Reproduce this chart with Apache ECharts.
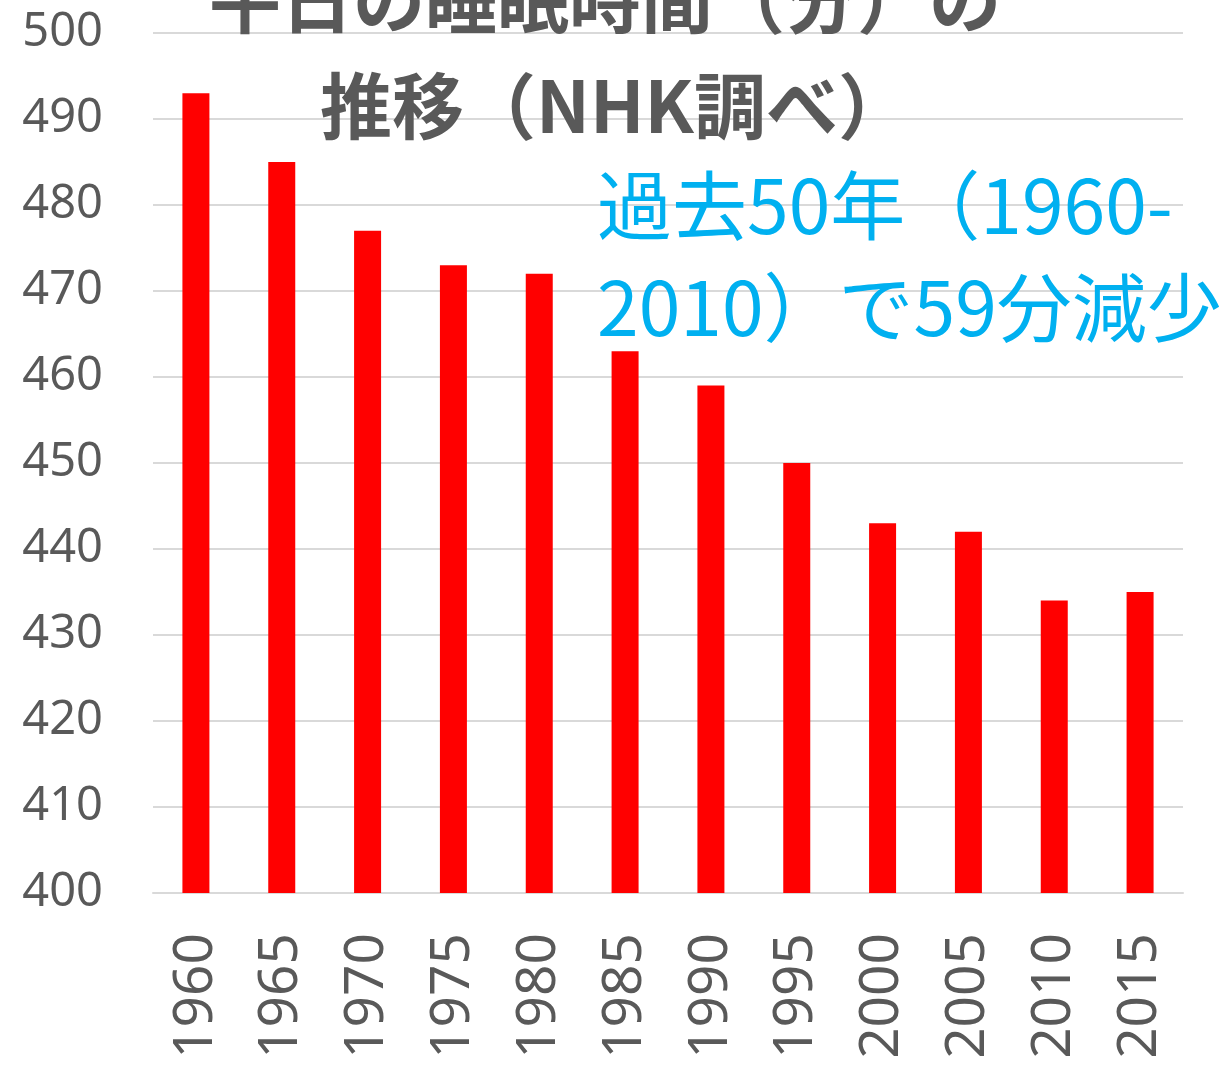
<!DOCTYPE html>
<html>
<head>
<meta charset="utf-8">
<script src="https://cdn.jsdelivr.net/npm/echarts@6/dist/echarts.min.js"></script>
<style>
  html, body { margin: 0; padding: 0; background: #ffffff; }
  #chart { width: 1230px; height: 1074px; }
</style>
</head>
<body>
<div id="chart"></div>
<script>
// Survey years and weekday sleep time in minutes (NHK)
const years = ['1960', '1965', '1970', '1975', '1980', '1985', '1990', '1995', '2000', '2005', '2010', '2015'];
const sleepMinutes = [493, 485, 477, 473, 472, 463, 459, 450, 443, 442, 434, 435];
const titleLines = ['平日の睡眠時間（分）の', '推移（NHK調べ）'];
const noteLines = ['過去50年（1960-', '2010）で59分減少'];

const chart = echarts.init(document.getElementById('chart'), null, { renderer: 'canvas' });

const grey = '#595959';
const cjk = '"Noto Sans CJK JP", "Noto Sans", sans-serif';
const num = '"Noto Sans", "Open Sans", sans-serif';

chart.setOption({
  animation: false,
  backgroundColor: '#ffffff',
  grid: { left: 153, right: 47, top: 33, bottom: 181, containLabel: false },
  xAxis: {
    type: 'category',
    data: years,
    axisLine: { show: true, lineStyle: { color: '#d9d9d9', width: 2 } },
    axisTick: { show: false },
    axisLabel: {
      rotate: 90,
      margin: 40,
      color: grey,
      fontSize: 55,
      fontFamily: num
    }
  },
  yAxis: {
    type: 'value',
    min: 400,
    max: 500,
    interval: 10,
    axisLine: { show: false },
    axisTick: { show: false },
    splitLine: { lineStyle: { color: '#d9d9d9', width: 2 } },
    axisLabel: {
      margin: 50,
      color: grey,
      fontSize: 47,
      fontFamily: num
    }
  },
  series: [{
    type: 'bar',
    data: sleepMinutes,
    barWidth: 27,
    itemStyle: { color: '#ff0000' }
  }],
  graphic: [
    {
      type: 'text', x: 605, y: 0, z: 10,
      style: { text: titleLines[0], font: 'bold 72px ' + cjk, fill: grey, textAlign: 'center', textVerticalAlign: 'middle' }
    },
    {
      type: 'text', x: 615, y: 106, z: 10,
      style: { text: titleLines[1], font: 'bold 72px ' + cjk, fill: grey, textAlign: 'center', textVerticalAlign: 'middle' }
    },
    {
      type: 'text', x: 597, y: 205, z: 10,
      style: { text: noteLines[0], font: '75px ' + cjk, fill: '#00b0f0', textAlign: 'left', textVerticalAlign: 'middle' }
    },
    {
      type: 'text', x: 597, y: 307, z: 10,
      style: { text: noteLines[1], font: '75px ' + cjk, fill: '#00b0f0', textAlign: 'left', textVerticalAlign: 'middle' }
    }
  ]
});
</script>
</body>
</html>
